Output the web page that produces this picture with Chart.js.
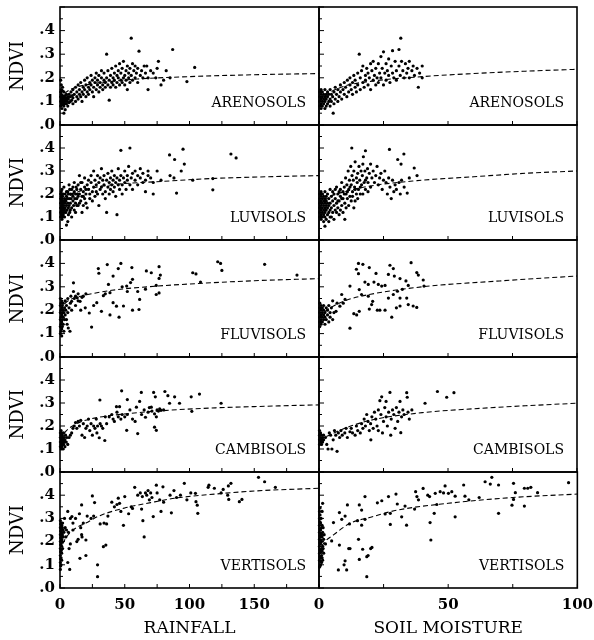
<!DOCTYPE html>
<html>
<head>
<meta charset="utf-8">
<script src="https://cdn.jsdelivr.net/npm/chart.js@4/dist/chart.umd.min.js"></script>
<style>
html,body{margin:0;padding:0;background:#fff;}
#wrap{position:relative;width:594px;height:640px;overflow:hidden;background:#fff;}
canvas{position:absolute;}
</style>
</head>
<body>
<div id="wrap"></div>
<script>
// ---------- DATA (NDVI vs rainfall / soil moisture) ----------
const soilNames = ['ARENOSOLS','LUVISOLS','FLUVISOLS','CAMBISOLS','VERTISOLS'];
const xTitles = ['RAINFALL','SOIL MOISTURE'];
const xMaxima = [200, 100];

const arenosolsRainfall = [[0.5,.08],[0.5,.1],[0.5,.12],[0.5,.14],[1,.09],[1,.11],[1,.13],[1,.15],[1.5,.07],[1.5,.1],[1.5,.12],[2,.085],[2,.105],[2,.125],[2,.145],[2.5,.095],[2.5,.115],[3,.08],[3,.1],[3,.12],[3,.14],[3.5,.09],[3.5,.11],[4,.1],[4,.125],[4,.065],[4.5,.115],[5,.09],[5,.11],[5,.13],[5.5,.1],[6,.12],[6,.08],[6.5,.11],[7,.13],[7,.095],[8,.1],[8,.12],[8.5,.14],[9,.105],[9.5,.125],[10,.09],[10,.115],[10,.15],[3,.05],[1,.17],[2,.16],[0.5,.19],[11,.13],[12,.1],[12,.16],[13,.12],[13,.14],[14,.11],[14,.17],[15,.13],[15,.15],[16,.12],[16,.18],[17,.14],[17,.1],[18,.16],[18,.13],[19,.19],[19,.15],[20,.12],[20,.17],[21,.14],[21,.2],[22,.16],[22,.13],[23,.18],[23,.15],[24,.21],[24,.17],[25,.14],[25,.19],[26,.16],[26,.12],[27,.18],[27,.2],[28,.15],[28,.22],[29,.17],[29,.19],[30,.14],[30,.21],[31,.18],[31,.16],[32,.2],[32,.23],[33,.17],[33,.15],[34,.19],[34,.22],[35,.18],[35,.16],[36,.3],[36,.2],[37,.17],[37,.23],[38,.105],[38,.19],[39,.21],[39,.16],[40,.18],[40,.24],[41,.2],[41,.17],[42,.22],[42,.19],[43,.25],[43,.16],[44,.21],[44,.18],[45,.23],[45,.2],[46,.26],[46,.17],[47,.19],[47,.22],[48,.24],[48,.18],[49,.2],[49,.27],[50,.21],[50,.17],[51,.23],[51,.19],[52,.25],[52,.15],[53,.22],[53,.2],[54,.18],[54,.24],[55,.368],[55,.21],[56,.26],[56,.19],[57,.23],[58,.2],[58,.25],[59,.22],[60,.18],[60,.24],[61,.313],[62,.21],[63,.23],[64,.2],[65,.25],[66,.22],[67,.25],[68,.15],[68,.2],[70,.23],[72,.22],[74,.2],[75,.24],[76,.27],[78,.17],[80,.19],[82,.23],[85,.2],[87,.32],[98,.184],[104,.244]];
const arenosolsSoilMoisture = [[0.3,.08],[0.3,.1],[0.3,.12],[0.3,.14],[0.8,.07],[0.8,.09],[0.8,.11],[0.8,.13],[0.8,.15],[1.3,.08],[1.3,.1],[1.3,.12],[1.3,.14],[1.8,.09],[1.8,.11],[1.8,.13],[2.3,.07],[2.3,.1],[2.3,.12],[2.3,.15],[2.8,.08],[2.8,.11],[2.8,.13],[3.3,.09],[3.3,.12],[3.3,.14],[3.8,.1],[3.8,.13],[4.3,.08],[4.3,.11],[4.3,.15],[4.8,.1],[4.8,.13],[5.3,.12],[5.5,.05],[5.8,.09],[5.8,.14],[6.3,.11],[6.3,.16],[6.8,.13],[7.3,.1],[7.3,.15],[7.8,.12],[8.3,.14],[8.3,.17],[8.8,.11],[9.3,.15],[9.8,.13],[9.8,.18],[10.3,.16],[10.8,.12],[11,.19],[11.5,.14],[12,.17],[12,.2],[12.5,.15],[13,.18],[13,.13],[13.5,.21],[14,.16],[14,.19],[14.5,.14],[15,.22],[15,.17],[15.6,.3],[16,.2],[16,.15],[16.5,.23],[17,.18],[17,.25],[17.5,.16],[18,.21],[18,.19],[18.5,.24],[19,.17],[19,.22],[19.5,.2],[20,.26],[20,.15],[20.5,.23],[21,.19],[21,.27],[21.5,.21],[22,.17],[22,.24],[22.5,.2],[23,.26],[23,.18],[23.5,.22],[24,.29],[24,.2],[24.5,.24],[25,.31],[25,.17],[25.5,.22],[26,.26],[26,.19],[26.5,.23],[27,.28],[27,.21],[27.5,.18],[28,.25],[28.5,.315],[28.5,.22],[29,.2],[29.5,.27],[30,.23],[30,.19],[31,.32],[31,.25],[31.5,.21],[31.7,.368],[32,.27],[32.5,.23],[33,.2],[33.5,.26],[34,.22],[34.5,.24],[35,.27],[35,.2],[36,.23],[36.5,.25],[37,.21],[38,.24],[38.5,.16],[39,.22],[40,.2],[40,.25]];
const luvisolsRainfall = [[0.5,.1],[0.5,.12],[0.5,.14],[0.5,.16],[0.5,.18],[0.5,.2],[1,.11],[1,.13],[1,.15],[1,.17],[1,.19],[1,.21],[1.5,.09],[1.5,.12],[1.5,.14],[1.5,.16],[1.5,.18],[1.5,.22],[2,.1],[2,.13],[2,.15],[2,.17],[2,.19],[2.5,.11],[2.5,.14],[2.5,.16],[2.5,.2],[3,.12],[3,.15],[3,.17],[3,.23],[3.5,.1],[3.5,.13],[3.5,.18],[4,.14],[4,.16],[4,.2],[4.5,.12],[4.5,.17],[5,.065],[5,.15],[5,.19],[5,.21],[5.5,.13],[5.5,.18],[6,.08],[6,.16],[6,.21],[6.5,.14],[6.5,.2],[6.5,.11],[7,.18],[7,.24],[7,.15],[7.5,.12],[7.5,.22],[8,.16],[8,.2],[8,.13],[8.5,.18],[9,.14],[9,.22],[9,.1],[9.5,.2],[10,.17],[10,.19],[10,.23],[10.5,.15],[11,.25],[11,.13],[11,.21],[11.5,.18],[12,.2],[12,.16],[12,.12],[12.5,.23],[13,.22],[13,.18],[13,.15],[13.5,.2],[14,.15],[14,.24],[14,.19],[15,.2],[15,.28],[15,.16],[16,.17],[16,.22],[16,.25],[17,.25],[17,.12],[17,.19],[18,.19],[18,.21],[18,.15],[19,.23],[19,.27],[19,.18],[20,.16],[20,.2],[20,.22],[21,.24],[21,.14],[22,.22],[22,.26],[23,.18],[23,.2],[24,.25],[24,.28],[25,.21],[25,.17],[26,.23],[26,.3],[27,.19],[27,.26],[28,.24],[28,.21],[29,.2],[29,.28],[30,.25],[30,.15],[31,.22],[31,.27],[32,.23],[32,.31],[33,.2],[33,.26],[34,.24],[34,.28],[35,.21],[35,.18],[36,.12],[36,.26],[37,.29],[37,.23],[38,.25],[38,.2],[39,.27],[39,.22],[40,.24],[40,.3],[41,.26],[41,.21],[42,.28],[42,.23],[43,.25],[43,.19],[44,.11],[44,.27],[45,.24],[45,.31],[46,.22],[46,.26],[47,.39],[47,.28],[48,.24],[48,.2],[49,.27],[50,.25],[50,.3],[51,.22],[52,.28],[52,.26],[53,.32],[54,.4],[54,.24],[55,.27],[56,.29],[56,.22],[58,.26],[58,.3],[60,.28],[60,.24],[62,.27],[62,.31],[64,.25],[64,.29],[66,.26],[66,.21],[68,.3],[68,.28],[70,.27],[72,.2],[72,.25],[75,.3],[78,.26],[84.6,.37],[85,.28],[88.5,.35],[88,.27],[90,.204],[93.6,.3],[95,.395],[96,.33],[102.5,.26],[118,.267],[118,.218],[132,.374],[136,.357]];
const luvisolsSoilMoisture = [[0.3,.1],[0.3,.12],[0.3,.14],[0.3,.16],[0.3,.18],[0.3,.2],[0.8,.09],[0.8,.11],[0.8,.13],[0.8,.15],[0.8,.17],[0.8,.19],[0.8,.21],[1.3,.1],[1.3,.12],[1.3,.14],[1.3,.16],[1.3,.18],[1.3,.2],[1.8,.08],[1.8,.11],[1.8,.13],[1.8,.15],[1.8,.17],[1.8,.19],[2.3,.06],[2.3,.1],[2.3,.12],[2.3,.14],[2.3,.16],[2.3,.18],[2.3,.21],[2.8,.09],[2.8,.13],[2.8,.15],[2.8,.17],[2.8,.19],[3.3,.11],[3.3,.14],[3.3,.16],[3.3,.2],[3.8,.08],[3.8,.12],[3.8,.15],[3.8,.18],[4.3,.13],[4.3,.16],[4.3,.22],[4.3,.1],[4.8,.1],[4.8,.14],[4.8,.19],[5.3,.12],[5.3,.17],[5.3,.21],[5.8,.15],[5.8,.2],[5.8,.09],[6.3,.13],[6.3,.18],[6.3,.22],[6.8,.16],[6.8,.23],[6.8,.12],[7.3,.14],[7.3,.2],[7.3,.17],[7.8,.17],[7.8,.11],[7.8,.21],[8.3,.19],[8.3,.22],[8.3,.13],[8.8,.15],[8.8,.25],[8.8,.18],[9.3,.18],[9.3,.21],[9.3,.12],[9.8,.23],[9.8,.2],[10,.09],[10,.16],[10.3,.27],[10.5,.2],[10.5,.14],[10.8,.24],[11,.18],[11,.21],[11.3,.3],[11.5,.22],[11.5,.15],[11.8,.26],[12,.19],[12,.23],[12.3,.32],[12.5,.24],[12.5,.17],[12.7,.4],[12.8,.28],[13,.21],[13,.19],[13.3,.26],[13.5,.3],[13.5,.14],[13.8,.23],[14,.34],[14,.17],[14,.22],[14.5,.27],[14.5,.2],[14.8,.25],[15,.29],[15,.18],[15.3,.22],[15.5,.32],[15.8,.26],[16,.2],[16,.23],[16.3,.3],[16.5,.24],[16.8,.28],[17,.33],[17,.2],[17.2,.362],[17.5,.25],[17.8,.3],[18,.388],[18,.22],[18,.26],[18.5,.27],[18.8,.31],[19,.25],[19,.21],[19.5,.29],[20,.23],[20,.33],[20.5,.27],[21,.3],[21.5,.25],[22,.28],[22.5,.32],[23,.24],[23.5,.27],[24,.29],[24.5,.22],[25,.26],[25.5,.3],[26,.25],[26.5,.2],[27,.27],[27.3,.394],[27.5,.23],[28,.18],[28.5,.26],[29,.21],[29.5,.24],[30,.22],[30.5,.35],[31,.25],[31.5,.2],[31.8,.33],[32,.26],[32.9,.374],[33,.23],[34.2,.204],[35,.27],[36.9,.313],[38,.28]];
const fluvisolsRainfall = [[0.3,.1],[0.3,.13],[0.3,.16],[0.3,.19],[0.3,.22],[0.3,.25],[0.8,.11],[0.8,.14],[0.8,.17],[0.8,.2],[0.8,.23],[1.3,.09],[1.3,.12],[1.3,.15],[1.3,.18],[1.3,.21],[1.3,.24],[1.8,.13],[1.8,.16],[1.8,.19],[1.8,.22],[2.5,.14],[2.5,.17],[2.5,.2],[2.5,.23],[3,.11],[3,.19],[3.5,.16],[3.5,.21],[4,.18],[4,.24],[4.5,.2],[5,.16],[5,.22],[5.5,.14],[6,.19],[6,.25],[6.4,.124],[7.7,.11],[7,.21],[8,.23],[8.4,.26],[9,.238],[9,.2],[10.4,.28],[10.4,.317],[11,.25],[12,.22],[12,.26],[13.3,.253],[14,.27],[14,.24],[15.5,.238],[16,.2],[17,.255],[18,.26],[19.5,.21],[20,.27],[22.6,.188],[24.4,.128],[26,.22],[28.4,.232],[29.6,.378],[30,.358],[32,.195],[33.5,.262],[35,.27],[36.5,.395],[37.4,.31],[38.6,.275],[38.6,.18],[41,.346],[41,.232],[43.6,.217],[45,.378],[45.6,.17],[47,.4],[48,.3],[49,.218],[51.5,.303],[52,.28],[54.5,.318],[55.5,.382],[56,.332],[56,.2],[60,.28],[61,.203],[61.5,.246],[66,.29],[66.7,.368],[70.5,.36],[74.3,.306],[74.3,.267],[76.5,.274],[76.5,.336],[76.5,.386],[77.5,.35],[102.5,.36],[105,.355],[108.5,.32],[121.8,.407],[124,.4],[125,.37],[158,.396],[183,.35]];
const fluvisolsSoilMoisture = [[0.3,.13],[0.3,.15],[0.3,.17],[0.3,.19],[0.3,.21],[0.3,.23],[0.8,.14],[0.8,.16],[0.8,.18],[0.8,.2],[0.8,.22],[1.3,.15],[1.3,.17],[1.3,.19],[1.3,.21],[1.8,.16],[1.8,.18],[1.8,.2],[1.8,.22],[2.3,.14],[2.3,.17],[2.3,.19],[2.8,.16],[2.8,.21],[3.3,.18],[3.3,.2],[3.8,.15],[3.8,.22],[4.3,.17],[4.3,.19],[4.8,.21],[5.3,.16],[5.3,.24],[5.8,.19],[6.6,.195],[7,.23],[8.1,.217],[8.8,.267],[9.4,.23],[10.1,.246],[12,.303],[12,.123],[13.5,.185],[14.5,.375],[14.6,.18],[15.3,.4],[15.3,.356],[15.6,.288],[15.6,.195],[16.5,.267],[17,.396],[17.8,.32],[19.1,.31],[19.1,.26],[19.5,.382],[19.5,.205],[20.4,.224],[20.8,.238],[21.3,.32],[22.1,.357],[22.6,.2],[23,.31],[23.6,.2],[24.3,.303],[25.6,.306],[25.6,.2],[26.9,.353],[26.9,.252],[27.5,.392],[28.2,.17],[28.8,.378],[28.8,.267],[29.2,.346],[30,.21],[30.4,.281],[31.4,.335],[31.4,.252],[31.4,.218],[32.3,.289],[33.7,.325],[34,.252],[34.6,.306],[34.6,.224],[35.7,.403],[36.5,.218],[37.9,.361],[37.9,.212],[38.5,.35],[40.4,.329],[40.7,.303]];
const cambisolsRainfall = [[0.3,.11],[0.3,.13],[0.3,.15],[0.3,.17],[0.8,.1],[0.8,.12],[0.8,.14],[0.8,.16],[0.8,.18],[1.3,.11],[1.3,.13],[1.3,.15],[1.3,.17],[1.8,.12],[1.8,.14],[1.8,.16],[2.3,.1],[2.3,.13],[2.3,.15],[2.8,.12],[2.8,.14],[2.8,.17],[3.3,.13],[3.3,.15],[3.8,.11],[3.8,.14],[4.3,.16],[4.8,.13],[5.3,.15],[6,.12],[7,.15],[8,.16],[9,.17],[10,.19],[11,.2],[12,.215],[13,.19],[14,.22],[15,.2],[16,.225],[17,.16],[18,.21],[19,.15],[20,.19],[21,.2],[22,.23],[23,.18],[24,.21],[25,.16],[26,.2],[27,.19],[28,.23],[28.5,.17],[29,.2],[30.3,.149],[30.8,.313],[31,.21],[32,.2],[33,.19],[34.6,.137],[35,.24],[36,.21],[38,.24],[40,.25],[41,.23],[42,.22],[43.6,.284],[44,.26],[45,.24],[46,.284],[47,.23],[47.6,.353],[48,.25],[50,.24],[51.5,.181],[52,.315],[52,.25],[54,.27],[56,.23],[58,.22],[59,.282],[60,.167],[61.5,.307],[62.8,.346],[63,.25],[65,.27],[66,.238],[68,.26],[69,.28],[70.5,.282],[71,.265],[72.3,.346],[73,.253],[73,.195],[73.6,.327],[74.4,.24],[74.4,.181],[75,.27],[76,.265],[77,.275],[78,.268],[80,.27],[81,.35],[83.3,.332],[84.6,.299],[88.5,.327],[92.3,.299],[101.3,.327],[101.8,.264],[107.7,.339],[124.4,.299]];
const cambisolsSoilMoisture = [[0.2,.12],[0.2,.14],[0.2,.16],[0.2,.18],[0.6,.13],[0.6,.15],[0.6,.17],[1,.12],[1,.14],[1,.16],[1.4,.13],[1.4,.15],[1.8,.14],[1.8,.16],[2.5,.15],[3,.12],[3.5,.1],[4,.17],[4.5,.16],[5,.1],[5.5,.14],[6,.18],[6.5,.16],[7,.09],[7.5,.17],[8,.15],[8.5,.18],[9,.16],[10,.17],[10.5,.19],[11,.15],[12,.175],[12.5,.19],[13,.17],[14,.16],[14.5,.2],[15,.18],[16,.17],[16.5,.21],[17,.19],[17.5,.23],[18,.2],[18.5,.25],[19,.22],[19.5,.18],[20,.21],[20.1,.14],[20.5,.24],[21,.19],[21.5,.26],[22,.23],[22.5,.2],[23,.27],[23,.18],[23.6,.31],[24,.25],[24.3,.327],[24.6,.17],[25,.22],[25.5,.28],[26,.307],[26,.24],[26.5,.2],[27,.26],[27.5,.346],[27.8,.16],[28,.23],[28.5,.27],[29,.25],[29.5,.19],[30,.28],[30.5,.22],[31,.26],[31.4,.307],[31.7,.171],[32,.24],[32.5,.27],[33,.25],[34,.345],[34.2,.325],[34.5,.26],[35,.23],[36,.27],[41.1,.299],[45.9,.35],[49.5,.325],[52.3,.345]];
const vertisolsRainfall = [[0.3,.08],[0.3,.11],[0.3,.14],[0.3,.17],[0.3,.2],[0.3,.23],[0.3,.26],[0.3,.29],[0.5,.095],[0.5,.125],[0.5,.155],[0.5,.185],[0.5,.215],[0.5,.245],[0.5,.275],[0.8,.1],[0.8,.13],[0.8,.16],[0.8,.19],[0.8,.22],[0.8,.25],[0.8,.28],[1,.165],[1,.205],[1,.235],[1,.265],[1.3,.12],[1.3,.15],[1.3,.18],[1.3,.21],[1.3,.24],[1.3,.27],[1.8,.2],[1.8,.23],[1.8,.26],[2,.17],[2,.28],[2.5,.22],[2.5,.25],[3,.24],[3.5,.3],[4,.26],[4.5,.22],[5,.25],[6,.33],[6,.11],[6.5,.24],[7,.17],[7.5,.08],[8,.3],[8,.19],[9.2,.308],[10,.28],[10,.25],[12,.3],[13,.2],[14,.21],[15.4,.128],[15,.32],[16,.26],[16.7,.358],[16.7,.23],[17,.22],[18,.28],[20,.14],[20,.207],[21,.31],[24,.3],[25,.397],[26,.31],[26.7,.368],[29,.049],[29,.1],[31,.276],[33.5,.178],[34,.28],[35.4,.185],[36,.276],[37,.31],[40,.37],[42,.35],[44,.36],[45,.387],[46,.365],[47,.33],[49,.27],[50,.394],[53,.32],[55,.35],[56,.343],[57.7,.434],[60,.4],[62,.41],[63,.34],[63.6,.394],[64,.29],[65,.22],[66,.41],[67,.4],[68,.42],[69,.38],[70,.41],[71,.39],[72,.308],[74.4,.443],[75,.41],[77,.38],[78,.33],[79.5,.436],[80,.37],[85,.4],[86,.324],[88,.42],[90,.39],[93,.4],[96,.451],[98,.38],[101,.41],[104.6,.408],[105,.372],[106,.357],[106.4,.322],[114.4,.434],[115,.443],[119.2,.43],[124.4,.41],[126,.425],[129.5,.4],[130,.44],[130.3,.382],[132,.451],[138.5,.372],[140.5,.382],[153.3,.477],[158,.458],[166.3,.434]];
const vertisolsSoilMoisture = [[0.2,.09],[0.2,.12],[0.2,.15],[0.2,.18],[0.2,.21],[0.2,.24],[0.2,.27],[0.2,.3],[0.2,.33],[0.4,.095],[0.4,.135],[0.4,.165],[0.4,.195],[0.4,.225],[0.4,.255],[0.4,.285],[0.4,.315],[0.4,.345],[0.6,.1],[0.6,.13],[0.6,.16],[0.6,.19],[0.6,.22],[0.6,.25],[0.6,.28],[0.8,.115],[0.8,.155],[0.8,.205],[0.8,.235],[0.8,.3],[1,.11],[1,.14],[1,.17],[1,.2],[1,.23],[1,.26],[1.2,.13],[1.2,.16],[1.2,.22],[1.2,.27],[1.2,.33],[1.4,.365],[1.4,.12],[1.4,.18],[1.4,.24],[1.6,.17],[1.6,.26],[1.8,.15],[1.8,.21],[2,.23],[2.5,.19],[4.9,.203],[5.6,.282],[7.5,.078],[7.9,.325],[7.9,.185],[8.8,.296],[9.7,.1],[10.1,.31],[10.1,.117],[10.7,.078],[11,.358],[11.5,.17],[11.8,.276],[12,.17],[14.9,.29],[15.3,.21],[15.6,.358],[15.6,.123],[16.5,.336],[16.5,.271],[16.9,.167],[17.8,.394],[17.8,.296],[18.5,.049],[18.5,.135],[19,.14],[20,.17],[20.5,.175],[22.6,.367],[24.3,.376],[25.6,.319],[26.9,.394],[27.6,.322],[27.6,.274],[29.8,.405],[30.3,.362],[32,.307],[33.3,.353],[33.9,.271],[37,.34],[37.4,.415],[37.9,.394],[38.5,.38],[40.3,.429],[42.1,.4],[42.8,.394],[43,.282],[43.3,.207],[44.6,.322],[45,.408],[45.6,.36],[46.9,.415],[48.2,.41],[48.8,.44],[50.1,.408],[51.4,.415],[52.7,.396],[52.7,.307],[56,.444],[56.5,.396],[58,.38],[62,.39],[64.3,.458],[66.3,.448],[66.9,.477],[69.5,.444],[69.5,.322],[74.7,.357],[75.3,.451],[75.3,.382],[76,.411],[79.5,.43],[79.5,.353],[80.8,.43],[82,.434],[84.6,.411],[96.6,.454]];

// fitted (dashed) curves
const arenosolsRainfallFit = [[0,.105],[5,.14],[10,.155],[20,.17],[40,.185],[60,.195],[100,.205],[150,.213],[200,.218]];
const arenosolsSoilMoistureFit = [[0,.1],[3,.13],[10,.165],[20,.185],[40,.205],[60,.218],[80,.228],[100,.236]];
const luvisolsRainfallFit = [[0,.14],[5,.18],[10,.2],[20,.22],[40,.24],[80,.255],[120,.268],[160,.275],[200,.28]];
const luvisolsSoilMoistureFit = [[0,.14],[3,.18],[10,.21],[20,.235],[38,.258],[60,.275],[80,.29],[100,.3]];
const fluvisolsRainfallFit = [[0,.2],[5,.235],[10,.25],[20,.265],[40,.285],[75,.303],[100,.312],[150,.326],[200,.335]];
const fluvisolsSoilMoistureFit = [[0,.17],[3,.2],[10,.24],[20,.268],[40,.3],[70,.325],[100,.346]];
const cambisolsRainfallFit = [[0,.14],[5,.18],[15,.215],[30,.238],[55,.255],[80,.267],[120,.279],[160,.286],[200,.292]];
const cambisolsSoilMoistureFit = [[0,.14],[4,.16],[10,.19],[20,.225],[40,.258],[60,.275],[80,.288],[100,.299]];
const vertisolsRainfallFit = [[2,.19],[5,.22],[10,.25],[20,.28],[30,.31],[50,.345],[70,.368],[90,.388],[120,.405],[150,.418],[200,.43]];
const vertisolsSoilMoistureFit = [[1,.18],[2.3,.2],[5.6,.229],[12,.279],[20,.305],[30,.335],[50,.365],[75,.39],[100,.405]];

const scatterSets = [
  [arenosolsRainfall, arenosolsSoilMoisture],
  [luvisolsRainfall, luvisolsSoilMoisture],
  [fluvisolsRainfall, fluvisolsSoilMoisture],
  [cambisolsRainfall, cambisolsSoilMoisture],
  [vertisolsRainfall, vertisolsSoilMoisture]
];
const fitSets = [
  [arenosolsRainfallFit, arenosolsSoilMoistureFit],
  [luvisolsRainfallFit, luvisolsSoilMoistureFit],
  [fluvisolsRainfallFit, fluvisolsSoilMoistureFit],
  [cambisolsRainfallFit, cambisolsSoilMoistureFit],
  [vertisolsRainfallFit, vertisolsSoilMoistureFit]
];

// ---------- LAYOUT ----------
const FONT = "'DejaVu Serif', 'Liberation Serif', serif";
const rowTops = [7, 125, 240, 357, 472];
const rowBottoms = [125, 240, 357, 472, 588];
const colLefts = [60, 319];
const colRights = [319, 577];
const M_L = 60, M_T = 10, M_R = 20, M_B = 55;

const framePlugin = {
  id: 'frame',
  afterDatasetsDraw(chart, args, opts) {
    const ctx = chart.ctx, a = chart.chartArea;
    const xs = chart.scales.x, ys = chart.scales.y;
    ctx.save();
    ctx.strokeStyle = '#000';
    ctx.lineWidth = 1;
    ys.ticks.forEach(t => {
      const p = ys.getPixelForValue(t.value);
      const major = Math.round(t.value * 100) % 10 === 0;
      const len = major ? 5 : 3;
      ctx.beginPath(); ctx.moveTo(a.left, p); ctx.lineTo(a.left + len, p); ctx.stroke();
    });
    xs.ticks.forEach(t => {
      const p = xs.getPixelForValue(t.value);
      ctx.beginPath(); ctx.moveTo(p, a.bottom); ctx.lineTo(p, a.bottom - 4); ctx.stroke();
    });
    ctx.lineWidth = 1.6;
    ctx.strokeRect(a.left, a.top, a.right - a.left, a.bottom - a.top);
    ctx.fillStyle = '#000';
    ctx.font = '14px ' + FONT;
    ctx.textAlign = 'right';
    ctx.textBaseline = 'alphabetic';
    ctx.fillText(opts.label, a.right - 13, a.bottom - 18);
    ctx.restore();
  }
};

function buildConfig(r, c) {
  const isLeft = c === 0, isBottom = r === 4;
  const xMax = xMaxima[c];
  return {
    type: 'scatter',
    data: {
      datasets: [
        {
          data: scatterSets[r][c].map(p => ({x: p[0], y: p[1]})),
          pointRadius: 1.6, pointBackgroundColor: '#000', pointBorderWidth: 0,
          borderWidth: 0, showLine: false, clip: false, order: 1
        },
        {
          data: fitSets[r][c].map(p => ({x: p[0], y: p[1]})),
          showLine: true, borderColor: '#000', borderWidth: 1.1, borderDash: [5, 3],
          pointRadius: 0, cubicInterpolationMode: 'monotone', fill: false, order: 0
        }
      ]
    },
    options: {
      responsive: false, animation: false, events: [],
      layout: {padding: {top: M_T, right: M_R, left: 0, bottom: 0}},
      plugins: {legend: {display: false}, tooltip: {enabled: false}, frame: {label: soilNames[r]}},
      scales: {
        x: {
          type: 'linear', min: 0, max: xMax,
          grid: {display: false, drawTicks: false}, border: {display: false},
          ticks: {
            display: isBottom, stepSize: 25, autoSkip: false, maxRotation: 0, padding: 8,
            color: '#000', font: {family: FONT, size: 15, weight: 'bold'},
            callback: v => (v % 50 === 0 && !(c === 0 && v === xMax)) ? String(v) : ''
          },
          title: {display: isBottom, text: xTitles[c], color: '#000',
                  font: {family: FONT, size: 17}, padding: {top: 0, bottom: 4}},
          afterFit: s => { s.height = M_B; }
        },
        y: {
          min: 0, max: 0.5,
          grid: {display: false, drawTicks: false}, border: {display: false},
          ticks: {
            display: isLeft, stepSize: 0.05, autoSkip: false, padding: 5,
            color: '#000', font: {family: FONT, size: 15, weight: 'bold'},
            callback: v => { const t = Math.round(v * 100); return (t % 10 !== 0 || t >= 50) ? '' : '.' + (t / 10); }
          },
          title: {display: isLeft, text: 'NDVI', color: '#000',
                  font: {family: FONT, size: 18}, padding: {top: 8, bottom: 0}},
          afterFit: s => { s.width = M_L; }
        }
      }
    },
    plugins: [framePlugin]
  };
}

const wrap = document.getElementById('wrap');
function makePanel(r, c, extraTop, extraLeft, extraRight) {
  const pl = colLefts[c], pr = colRights[c], pt = rowTops[r], pb = rowBottoms[r];
  const w = (pr - pl) + M_L + M_R + extraLeft + extraRight;
  const h = (pb - pt) + M_T + M_B + extraTop;
  const cv = document.createElement('canvas');
  cv.width = w; cv.height = h;
  cv.style.left = (pl - M_L - extraLeft) + 'px';
  cv.style.top = (pt - M_T - extraTop) + 'px';
  cv.style.width = w + 'px'; cv.style.height = h + 'px';
  wrap.appendChild(cv);
  const chart = new Chart(cv, buildConfig(r, c));
  return {cv, chart, w, h};
}
for (let r = 0; r < 5; r++) {
  for (let c = 0; c < 2; c++) {
    // first pass: measure how far the library pushed the plot area
    const p1 = makePanel(r, c, 0, 0, 0);
    const a = p1.chart.chartArea;
    const dTop = Math.round(a.top - M_T);
    const dLeft = Math.round(a.left - M_L);
    const dRight = Math.round((p1.w - M_R) - a.right);
    if (dTop !== 0 || dLeft !== 0 || dRight !== 0) {
      p1.chart.destroy();
      p1.cv.remove();
      makePanel(r, c, dTop, dLeft, dRight);
    }
  }
}
</script>
</body>
</html>
